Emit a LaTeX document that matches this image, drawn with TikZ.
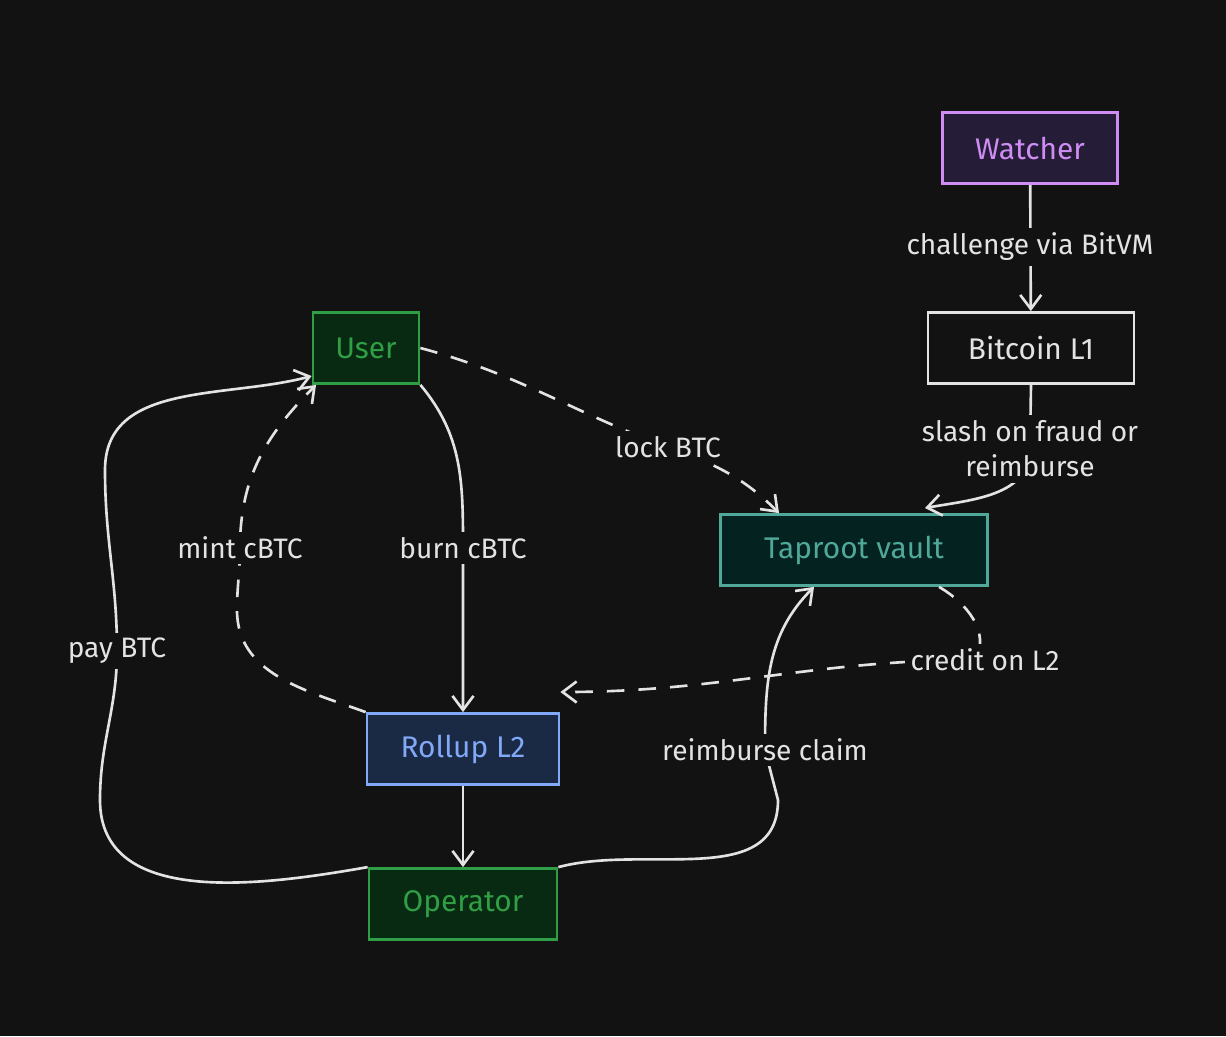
\documentclass[tikz,border=0pt]{standalone}
\usepackage{fontspec}
\setmainfont{Fira Sans}
\usetikzlibrary{arrows.meta,positioning}
\definecolor{bg}{HTML}{121212}
\definecolor{ink}{HTML}{E3E3E3}
\definecolor{grn}{HTML}{2F9E44}
\definecolor{grnfill}{HTML}{082A12}
\definecolor{vio}{HTML}{D08CF5}
\definecolor{viofill}{HTML}{251D38}
\definecolor{teal}{HTML}{4FA89A}
\definecolor{tealfill}{HTML}{04221F}
\definecolor{blu}{HTML}{82A8F8}
\definecolor{blufill}{HTML}{1A2A44}
\tikzset{
  box/.style={draw, line width=1.6pt, minimum height=1.42cm, font=\fontsize{17}{20}\selectfont, inner sep=0pt},
  lbl/.style={fill={rgb,255:red,18;green,18;blue,18}, draw=none, text=ink,
    font=\fontsize{16}{20}\selectfont, align=center, inner sep=3pt},
  flow/.style={draw=ink, line width=1.5pt, -{Straight Barb[length=8pt,width=12pt]}},
  flowd/.style={flow, dash pattern=on 10pt off 8pt},
}
\begin{document}
\begin{tikzpicture}[x=0.02cm, y=-0.02cm]
  \fill[bg] (0,0) rectangle (1226,1036);
  \useasboundingbox (0,0) rectangle (1226,1036);

  % nodes
  \node[box, draw=vio, fill=viofill, text=vio, minimum width=3.5cm] (watcher) at (1030,148) {Watcher};
  \node[box, draw=ink, fill=bg, text=ink, minimum width=4.12cm] (btc) at (1031,348) {Bitcoin L1};
  \node[box, draw=grn, fill=grnfill, text=grn, minimum width=2.12cm] (user) at (366,348) {User};
  \node[box, draw=teal, fill=tealfill, text=teal, minimum width=5.34cm] (vault) at (854,550) {Taproot vault};
  \node[box, draw=blu, fill=blufill, text=blu, minimum width=3.84cm] (rollup) at (463,749) {Rollup L2};
  \node[box, draw=grn, fill=grnfill, text=grn, minimum width=3.76cm] (operator) at (463,904) {Operator};

  % label anchors
  \coordinate (slash) at (1030,449);
  \coordinate (lock) at (668,447);
  \coordinate (burn) at (463,548);
  \coordinate (mint) at (240,548);
  \coordinate (credit) at (975,660);
  \coordinate (pay) at (117,651);
  \coordinate (claim) at (765,750);

  % connectors
  \draw[flow] (watcher) -- (btc);
  \draw[flow] (btc.south) -- (slash) to[out=-90, in=10] (925,508);
  \draw[flowd] (user.east) to[out=-15, in=160] (lock)
     to[out=-20, in=135] ([xshift=-1.5cm]vault.north);
  \draw[flow] (user.south east) to[out=-50, in=90] (burn) -- (rollup.north);
  \draw[flowd] (rollup.north west) to[out=160, in=-90] (237,610)
     to[out=90, in=-90] (mint) to[out=90, in=-135] ([xshift=-1cm]user.south);
  \draw[flowd] ([xshift=1.7cm]vault.south) to[out=-30, in=60] (credit)
     to[out=180, in=0] (rollup.north east |- 0,692);
  \draw[flow] (rollup) -- (operator);
  \draw[flow] (operator.north west) to[out=190, in=-90] (100,800)
     to[out=90, in=-90] (pay) to[out=90, in=-90] (105,470)
     to[out=90, in=195] (user.west |- 0,376);
  \draw[flow] (operator.north east) to[out=15, in=-90] (778,800)
     -- (claim) to[out=90, in=-135] ([xshift=-0.8cm]vault.south);

  % labels
  \node[lbl] at (1030,247) {challenge via BitVM};
  \node[lbl] at (slash) {slash on fraud or\\reimburse};
  \node[lbl] at (lock) {lock BTC};
  \node[lbl] at (burn) {burn cBTC};
  \node[lbl] at (mint) {mint cBTC};
  \node[lbl] at (985,660) {credit on L2};
  \node[lbl] at (pay) {pay BTC};
  \node[lbl] at (claim) {reimburse claim};
\end{tikzpicture}
\end{document}
